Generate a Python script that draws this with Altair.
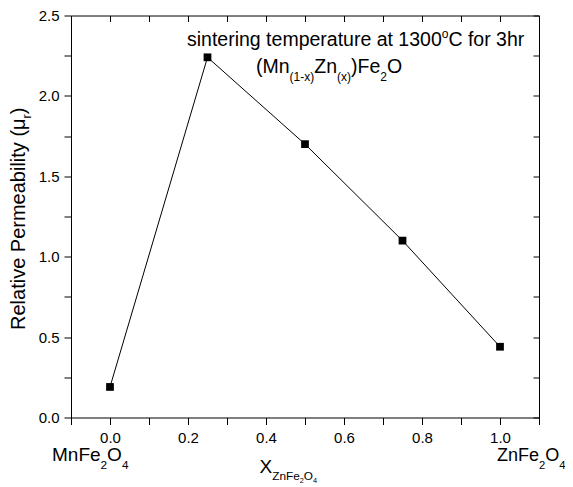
import altair as alt
import pandas as pd

# ---- data ----
x_comp = [0.0, 0.25, 0.5, 0.75, 1.0]
mu_r = [0.19, 2.24, 1.70, 1.10, 0.44]

x_ticks = [-0.1, 0.0, 0.1, 0.2, 0.3, 0.4, 0.5, 0.6, 0.7, 0.8, 0.9, 1.0, 1.1]
y_ticks = [0.0, 0.25, 0.5, 0.75, 1.0, 1.25, 1.5, 1.75, 2.0, 2.25, 2.5]

df = pd.DataFrame({"x": x_comp, "mu": mu_r})

# ---- layout ----
W, H = 468, 402
PAD_L, PAD_T = 63, 7.5
OX, OY = 8 + PAD_L, 8 + PAD_T  # page position of plot origin
FONT = "Liberation Sans, Arial, sans-serif"

ARIAL = {
    " ": 278, "(": 333, ")": 333, "-": 333, ".": 278, "°": 400,
    "0": 556, "1": 556, "2": 556, "3": 556, "4": 556, "5": 556, "6": 556,
    "7": 556, "8": 556, "9": 556,
    "C": 722, "F": 611, "M": 833, "O": 778, "P": 667, "R": 722, "X": 667, "Z": 611,
    "a": 556, "b": 556, "c": 500, "e": 556, "f": 278, "g": 556, "h": 556,
    "i": 222, "l": 222, "m": 833, "n": 556, "o": 556, "p": 556, "r": 333,
    "s": 500, "t": 278, "u": 556, "v": 500, "x": 500, "y": 500, "μ": 576,
}


def tw(s, size):
    return sum(ARIAL.get(c, 556) for c in s) / 1000.0 * size


def piece(text, size, px, py, angle=0):
    props = dict(text=text, font=FONT, fontSize=size, color="black",
                 align="left", baseline="alphabetic")
    if angle:
        props["angle"] = angle
    return alt.Chart(alt.Data(values=[{}])).mark_text(**props).encode(
        x=alt.value(px - OX), y=alt.value(py - OY))


def hchain(pieces, px, py):
    out = []
    for text, size, dy in pieces:
        out.append(piece(text, size, px, py + dy))
        px += tw(text, size)
    return out


def vchain(pieces, px, py):
    out = []
    for text, size, dx in pieces:
        out.append(piece(text, size, px + dx, py, angle=270))
        py -= tw(text, size)
    return out


xscale = alt.Scale(domain=[-0.1, 1.1], nice=False, zero=False)
yscale = alt.Scale(domain=[0, 2.5], nice=False, zero=False)

common_axis = dict(tickColor="black", tickWidth=1, grid=False, domain=False,
                   labelColor="black", labelFont=FONT, labelFontSize=15,
                   title=None)

bottom_axis = alt.Axis(orient="bottom", values=x_ticks, tickSize=7, labelPadding=6,
                       labelFlush=False, labelOverlap=False,
                       labelExpr="round(datum.value*10) % 2 == 0 ? format(datum.value, '.1f') : ''",
                       **common_axis)
left_axis = alt.Axis(orient="left", values=y_ticks, tickSize=7, labelPadding=5,
                     labelFlush=False, labelOverlap=False,
                     labelExpr="round(datum.value*4) % 2 == 0 ? format(datum.value, '.1f') : ''",
                     **common_axis)
top_axis = alt.Axis(orient="top", values=x_ticks, tickSize=6, offset=-6,
                    labels=False, **common_axis)
right_axis = alt.Axis(orient="right", values=y_ticks, tickSize=6, offset=-6,
                      labels=False, **common_axis)

base = alt.Chart(df)
line = base.mark_line(color="black", strokeWidth=1).encode(
    x=alt.X("x:Q", scale=xscale, axis=bottom_axis),
    y=alt.Y("mu:Q", scale=yscale, axis=left_axis),
)
pts = base.mark_square(color="black", size=60, opacity=1).encode(
    x=alt.X("x:Q", scale=xscale, axis=top_axis),
    y=alt.Y("mu:Q", scale=yscale, axis=right_axis),
)

F_ann = 19.5
S_ann = 12
texts = []
texts += hchain([("sintering temperature at 1300", F_ann, 0), ("o", S_ann, -8),
                 ("C for 3hr", F_ann, 0)], 187, 46)
texts += hchain([("(Mn", F_ann, 0), ("(1-x)", S_ann, 8), ("Zn", F_ann, 0),
                 ("(x)", S_ann, 8), (")Fe", F_ann, 0), ("2", S_ann, 8),
                 ("O", F_ann, 0)], 256, 73)
F_lab, S_lab = 19, 11.8
texts += hchain([("MnFe", F_lab, 0), ("2", S_lab, 8), ("O", F_lab, 0), ("4", S_lab, 8)], 52, 461)
texts += hchain([("ZnFe", 18, 0), ("2", 11.2, 8), ("O", 18, 0), ("4", 11.2, 8)], 497, 461)
texts += hchain([("X", F_lab, 0), ("ZnFe", S_lab, 7), ("2", 7.3, 9.5), ("O", S_lab, 7),
                 ("4", 7.3, 9.5)], 259.5, 473)
texts += vchain([("Relative Permeability (μ", 20, 0), ("r", 12.4, 6), (")", 20, 0)], 25, 330)

chart = alt.layer(line, pts, *texts).resolve_axis(
    x="independent", y="independent"
).properties(
    width=W, height=H,
    autosize=alt.AutoSizeParams(type="none"),
    padding={"left": PAD_L, "top": PAD_T, "right": 26, "bottom": 70},
    background="white",
).configure_view(stroke="black", strokeWidth=1)

chart.save("out.html", embed_options={"renderer": "svg", "actions": False})
